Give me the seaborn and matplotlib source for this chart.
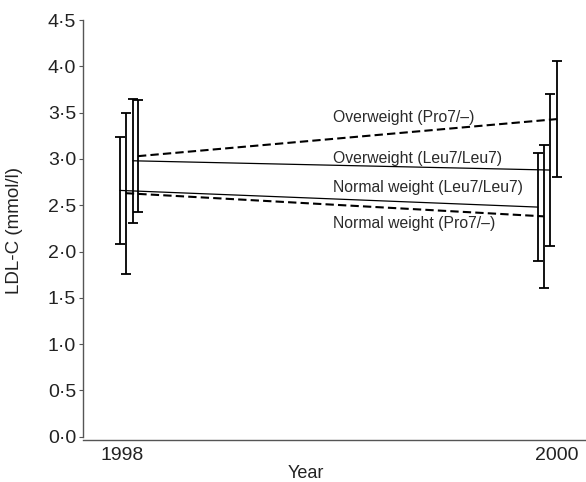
import pandas as pd
import matplotlib.pyplot as plt
import seaborn as sns

# LDL-C means and error bars
groups = ["Normal weight (Leu7/Leu7)", "Normal weight (Pro7/–)",
          "Overweight (Leu7/Leu7)", "Overweight (Pro7/–)"]
years = [1998, 2000]
mean_1998 = [2.66, 2.63, 2.98, 3.03]
mean_2000 = [2.48, 2.38, 2.88, 3.43]
err_1998 = [0.58, 0.87, 0.67, 0.605]
err_2000 = [0.585, 0.77, 0.825, 0.625]
yticks = [0.0, 0.5, 1.0, 1.5, 2.0, 2.5, 3.0, 3.5, 4.0, 4.5]
ytick_labels = ["0·0", "0·5", "1·0", "1·5", "2·0", "2·5", "3·0", "3·5", "4·0", "4·5"]

# horizontal dodge of each group at each year (in years)
dodge_1998 = [-0.009, 0.018, 0.050, 0.074]
dodge_2000 = [-0.087, -0.060, -0.032, 0.0]
styles = ["solid", (0, (4, 2)), "solid", (0, (4, 2))]
widths = [0.9, 1.5, 0.9, 1.5]
label_y = [2.69, 2.30, 3.00, 3.45]

sns.set_style("ticks")
plt.rcParams["font.family"] = ["Liberation Sans", "DejaVu Sans"]

fig = plt.figure(figsize=(5.86, 4.82), dpi=100)
ax = fig.add_axes([0.1416, 0.0871, 0.8564, 0.8714])

rows = []
for i, g in enumerate(groups):
    rows.append({"group": g, "x": years[0] + dodge_1998[i], "ldl": mean_1998[i], "err": err_1998[i]})
    rows.append({"group": g, "x": years[1] + dodge_2000[i], "ldl": mean_2000[i], "err": err_2000[i]})
df = pd.DataFrame(rows)

for i, g in enumerate(groups):
    d = df[df["group"] == g]
    sns.lineplot(data=d, x="x", y="ldl", ax=ax, color="black",
                 linestyle=styles[i], linewidth=widths[i], legend=False)
    ax.errorbar(d["x"], d["ldl"], yerr=d["err"], fmt="none", ecolor="black",
                elinewidth=1.3, capsize=3.4, capthick=1.3)
    ax.text(1998.97, label_y[i], g, fontsize=11.3, color="#2a2a2a", va="center")

ax.set_xlim(1997.821, 2000.129)
ax.set_ylim(-0.035, 4.5)
ax.set_xticks(years)
ax.set_xticklabels([str(y) for y in years])
ax.set_yticks(yticks)
ax.set_yticklabels(ytick_labels)
ax.tick_params(axis="x", length=0, labelsize=14, colors="#222222", pad=5)
ax.tick_params(axis="y", length=3, labelsize=14, colors="#222222", pad=2)
ax.tick_params(axis="y", color="#555555")

sns.despine(ax=ax)
ax.spines["left"].set_bounds(0, 4.5)
for s in ["left", "bottom"]:
    ax.spines[s].set_color("#555555")
    ax.spines[s].set_linewidth(1.0)

ax.set_xlabel("Year", fontsize=13, color="#222222", va="bottom")
ax.xaxis.set_label_coords(0.444, -0.1)
ax.set_ylabel("LDL-C (mmol/l)", fontsize=13.5, color="#222222")
ax.yaxis.set_label_coords(-0.12, 0.5)

fig.savefig("out.png", dpi=100)
